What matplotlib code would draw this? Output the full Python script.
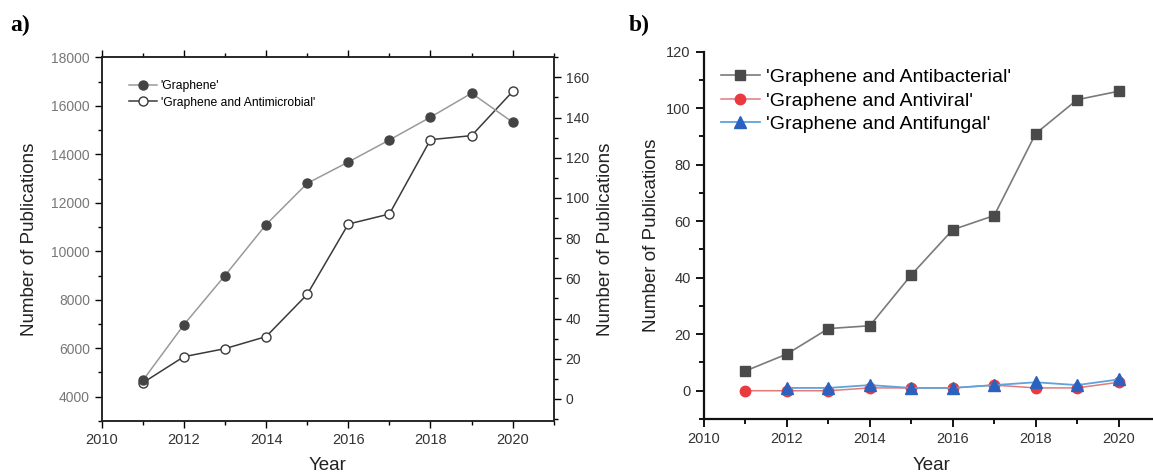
import matplotlib
matplotlib.use("Agg")
import matplotlib.pyplot as plt
from matplotlib.ticker import MultipleLocator

plt.rcParams['font.family'] = ['Liberation Sans', 'DejaVu Sans']

years = [2011, 2012, 2013, 2014, 2015, 2016, 2017, 2018, 2019, 2020]
graphene = [4670, 6970, 9000, 11100, 12800, 13680, 14590, 15530, 16520, 15320]
antimicrobial = [8, 21, 25, 31, 52, 87, 92, 129, 131, 153]

years_b = [2011, 2012, 2013, 2014, 2015, 2016, 2017, 2018, 2019, 2020]
antibacterial = [7, 13, 22, 23, 41, 57, 62, 91, 103, 106]
antiviral = [0, 0, 0, 1, 1, 1, 2, 1, 1, 3]
years_f = [2012, 2013, 2014, 2015, 2016, 2017, 2018, 2019, 2020]
antifungal = [1, 1, 2, 1, 1, 2, 3, 2, 4]

fig = plt.figure(figsize=(11.53, 4.75), dpi=100)

# ---------------- panel a ----------------
axa = fig.add_axes([0.0882, 0.1137, 0.3921, 0.7657])
axa2 = axa.twinx()
axa.set_zorder(axa2.get_zorder() + 1)
axa.patch.set_visible(False)

l1, = axa.plot(years, graphene, '-', color='#9a9a9a', lw=1.1, marker='o', ms=6.5,
               mfc='#444444', mec='#444444', label="'Graphene'")
l2, = axa2.plot(years, antimicrobial, '-', color='#3a3a3a', lw=1.1, marker='o', ms=6.5,
                mfc='white', mec='#3a3a3a', mew=1.0, label="'Graphene and Antimicrobial'")

axa.set_xlim(2010, 2021)
axa.set_ylim(3000, 18000)
axa2.set_ylim(-11, 170)
axa.xaxis.set_major_locator(MultipleLocator(2))
axa.xaxis.set_minor_locator(MultipleLocator(1))
axa.yaxis.set_major_locator(MultipleLocator(2000))
axa.yaxis.set_minor_locator(MultipleLocator(1000))
axa2.yaxis.set_major_locator(MultipleLocator(20))
axa2.yaxis.set_minor_locator(MultipleLocator(10))
axa.set_yticks(range(4000, 18001, 2000))
axa2.set_yticks(range(0, 161, 20))

axa.tick_params(axis='x', which='both', direction='out', top=True, labelsize=10.5,
                labelcolor='#333333', width=1.0, pad=4)
axa.tick_params(axis='x', which='major', length=5)
axa.tick_params(axis='x', which='minor', length=3)
axa.tick_params(axis='y', which='both', direction='out', labelsize=10,
                labelcolor='#777777', width=1.0)
axa.tick_params(axis='y', which='major', length=5)
axa.tick_params(axis='y', which='minor', length=3)
axa2.tick_params(axis='y', which='both', direction='out', labelsize=10,
                 labelcolor='#333333', width=1.0)
axa2.tick_params(axis='y', which='major', length=5)
axa2.tick_params(axis='y', which='minor', length=3)
for sp in list(axa.spines.values()) + list(axa2.spines.values()):
    sp.set_linewidth(1.1)
    sp.set_color('#222222')

axa.set_xlabel('Year', fontsize=13.5, color='#222222')
axa.xaxis.set_label_coords(0.5, -0.10)
axa.set_ylabel('Number of Publications', fontsize=13.5, color='#222222')
axa.yaxis.set_label_coords(-0.14, 0.5)
axa2.set_ylabel('Number of Publications', fontsize=13.5, color='#222222')
axa2.yaxis.set_label_coords(1.096, 0.5)

axa.legend(handles=[l1, l2], loc='upper left', bbox_to_anchor=(0.05, 0.95),
           frameon=False, fontsize=8.7, handlelength=2.3, handletextpad=0.3,
           labelspacing=0.35, borderaxespad=0)

fig.text(0.009, 0.935, 'a)', fontsize=17, fontweight='bold',
         family=['Liberation Serif', 'DejaVu Serif'], va='baseline')

# ---------------- panel b ----------------
axb = fig.add_axes([0.6106, 0.1179, 0.3955, 0.7733])
lb1, = axb.plot(years_b, antibacterial, '-', color='#7a7a7a', lw=1.2, marker='s', ms=7,
                mfc='#4a4a4a', mec='#4a4a4a', label="'Graphene and Antibacterial'")
lb2, = axb.plot(years_b, antiviral, '-', color='#e07a7a', lw=1.1, marker='o', ms=7.5,
                mfc='#ea3a3f', mec='#ea3a3f', label="'Graphene and Antiviral'")
lb3, = axb.plot(years_f, antifungal, '-', color='#5ea3dc', lw=1.3, marker='^', ms=8,
                mfc='#2b62c0', mec='#2b62c0', label="'Graphene and Antifungal'")

axb.set_xlim(2010, 2021)
axb.set_ylim(-10, 120)
axb.xaxis.set_major_locator(MultipleLocator(2))
axb.xaxis.set_minor_locator(MultipleLocator(1))
axb.yaxis.set_major_locator(MultipleLocator(20))
axb.yaxis.set_minor_locator(MultipleLocator(10))
axb.set_yticks(range(0, 121, 20))
axb.spines['top'].set_visible(False)
axb.spines['right'].set_visible(False)
for sp in ('left', 'bottom'):
    axb.spines[sp].set_linewidth(1.6)
    axb.spines[sp].set_color('#111111')
axb.tick_params(axis='both', which='both', direction='out', labelsize=10.5,
                labelcolor='#333333', width=1.3)
axb.tick_params(axis='both', which='major', length=6)
axb.tick_params(axis='both', which='minor', length=3.5)

axb.set_xlabel('Year', fontsize=13.5, color='#222222')
axb.xaxis.set_label_coords(0.5, -0.103)
axb.set_ylabel('Number of Publications', fontsize=13.5, color='#222222')
axb.yaxis.set_label_coords(-0.096, 0.5)

axb.legend(handles=[lb1, lb2, lb3], loc='upper left', bbox_to_anchor=(0.02, 0.975),
           frameon=False, fontsize=14, handlelength=2.0, handletextpad=0.3,
           labelspacing=0.3, borderaxespad=0)

fig.text(0.545, 0.935, 'b)', fontsize=17, fontweight='bold',
         family=['Liberation Serif', 'DejaVu Serif'], va='baseline')

fig.savefig('out.png', dpi=100)
